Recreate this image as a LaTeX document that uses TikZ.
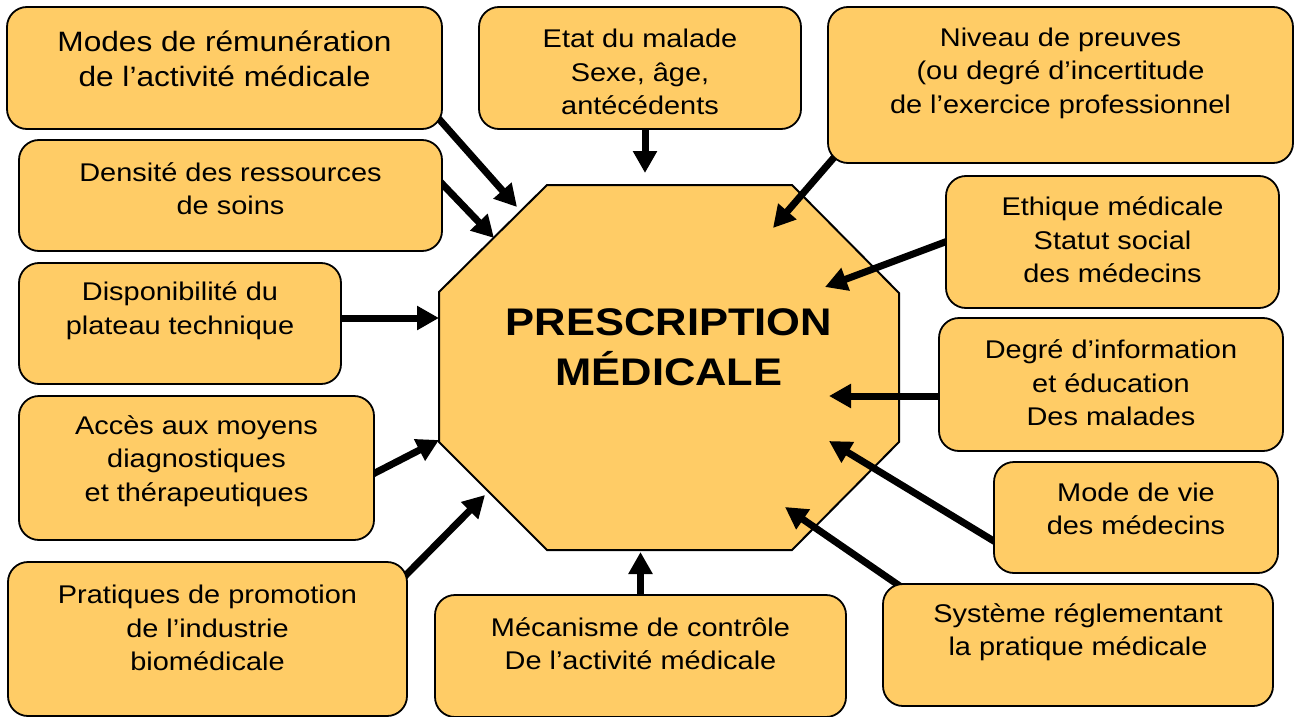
\documentclass[tikz,border=0pt]{standalone}
\usepackage{fontspec}
\setmainfont{Liberation Sans}[FakeStretch=1.13]
\usetikzlibrary{arrows.meta,calc,fit}
\definecolor{boxfill}{HTML}{FFCC66}
\pgfdeclarelayer{bg}
\pgfdeclarelayer{fg}
\pgfsetlayers{bg,main,fg}
\begin{document}
\begin{tikzpicture}[x=1pt,y=-1pt,
  box/.style={draw=black, line width=1.8pt, fill=boxfill, rounded corners=20pt, inner sep=0pt},
  lbl/.style={align=center, font=\fontsize{25.6}{33.5}\selectfont, inner sep=0pt},
  arr/.style={line width=7pt, shorten <=-8pt, -{Triangle[length=22pt,width=23pt]}}]
\useasboundingbox (0,0) rectangle (1295,717);

% central octagon
\begin{pgfonlayer}{bg}
\draw[line width=2pt, fill=boxfill] (547,185) -- (792,185) -- (899,293) -- (899,442)
  -- (792,550) -- (547,550) -- (439,442) -- (439,292) -- cycle;
\node[align=center, inner sep=0pt, font=\bfseries\fontsize{38.5}{50}\selectfont] (P) at (669,347) {PRESCRIPTION\\MÉDICALE};
\end{pgfonlayer}

% boxes
\begin{pgfonlayer}{fg}
\node[box, fit={(7,7) (442,129)}] (A) {};
\node[lbl, font=\fontsize{28}{35}\selectfont] (At) at (224.5,59) {Modes de rémunération\\de l’activité médicale};
\node[box, fit={(19,140) (442,251)}] (B) {};
\node[lbl] (Bt) at (230.5,188.5) {Densité des ressources\\de soins};
\node[box, fit={(479,7) (801,129)}] (C) {};
\node[lbl] (Ct) at (640,72) {Etat du malade\\Sexe, âge,\\antécédents};
\node[box, fit={(828,7) (1293,163)}] (D) {};
\node[lbl] (Dt) at (1060.5,73) {Niveau de preuves\\(ou degré d’incertitude\\de l’exercice professionnel};
\node[box, fit={(946,176) (1279,308)}] (E) {};
\node[lbl] (Et) at (1112.5,240) {Ethique médicale\\Statut social\\des médecins};
\node[box, fit={(19,263) (341,384)}] (F) {};
\node[lbl] (Ft) at (180,310.5) {Disponibilité du\\plateau technique};
\node[box, fit={(19,396) (374,540)}] (G) {};
\node[lbl] (Gt) at (196.5,461) {Accès aux moyens\\diagnostiques\\et thérapeutiques};
\node[box, fit={(939,318) (1283,451)}] (H) {};
\node[lbl] (Ht) at (1111,383) {Degré d’information\\et éducation\\Des malades};
\node[box, fit={(994,462) (1278,573)}] (I) {};
\node[lbl] (It) at (1136,509) {Mode de vie\\des médecins};
\node[box, fit={(8,562) (407,716)}] (J) {};
\node[lbl] (Jt) at (207.5,628) {Pratiques de promotion\\de l’industrie\\biomédicale};
\node[box, fit={(435,595) (846,717)}] (K) {};
\node[lbl] (Kt) at (640.5,643.5) {Mécanisme de contrôle\\De l’activité médicale};
\node[box, fit={(883,584) (1273,706)}] (L) {};
\node[lbl] (Lt) at (1078,632) {Système réglementant\\la pratique médicale};
\end{pgfonlayer}

% arrow tips
\coordinate (tA) at (517,207);
\coordinate (tB) at (494,238);
\coordinate (tC) at (645,173);
\coordinate (tD) at (773,228);
\coordinate (tE) at (825,287);
\coordinate (tF) at (439,318);
\coordinate (tG) at (439,440);
\coordinate (tH) at (829,396);
\coordinate (tI) at (829,441);
\coordinate (tJ) at (485,495);
\coordinate (tK) at (640.5,552);
\coordinate (tL) at (785,507);

% connectors
\draw[arr] ($(A.south east)+(-4,-11)$) -- (tA);
\draw[arr] ($(B.east)+(-2,-13)$) -- (tB);
\draw[arr] ($(C.south)+(5,0)$) -- (tC);
\draw[arr] ($(D.south west)+(10,-10)$) -- (tD);
\draw[arr] (E.west) -- (tE);
\draw[arr] ($(F.east)+(0,-5.5)$) -- (tF);
\draw[arr] ($(G.east)+(0,5)$) -- (tG);
\draw[arr] ($(H.west)+(0,11.5)$) -- (tH);
\draw[arr] ($(I.west)+(-1,22.5)$) -- (tI);
\draw[arr] ($(J.north east)+(1,11)$) -- (tJ);
\draw[arr] (K.north) -- (tK);
\draw[arr] ($(L.north west)+(12,-1)$) -- (tL);
\end{tikzpicture}
\end{document}
